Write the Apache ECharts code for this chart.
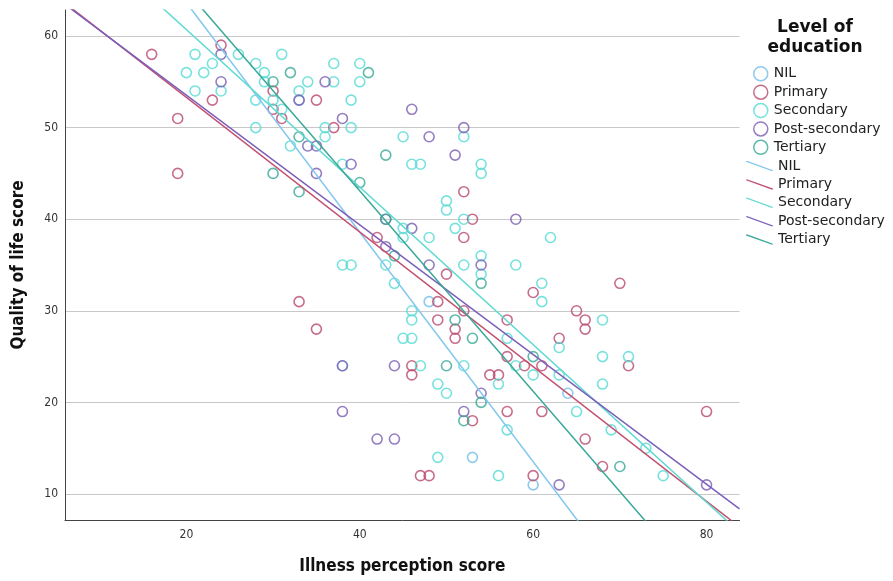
<!DOCTYPE html>
<html><head><meta charset="utf-8">
<script src="https://cdn.jsdelivr.net/npm/echarts@6/dist/echarts.min.js"></script>
<style>html,body{margin:0;padding:0;background:#fff}#c{width:893px;height:581px}</style>
</head><body><div id="c"></div>
<script>
const groups = ['NIL','Primary','Secondary','Post-secondary','Tertiary'];
const colors = ['#72bde9','#b9496f','#55dbd4','#7a5cb2','#35a996'];
const lineColors = ['#80c6ee','#c2506f','#5fd9d1','#7b5fbb','#3aa898'];

const nilX = [48,53,64,60,33,38];
const nilY = [31,14,21,11,53,24];
const primaryX = [16,24,23,30,30,31,19,19,35,37,52,70,60,65,66,66,57,63,53,52,42,50,33,49,35,49,52,51,51,57,46,46,55,56,53,57,47,48,71,59,61,61,80,66,68,60];
const primaryY = [58,59,53,54,52,51,51,45,53,50,43,33,32,30,29,28,29,27,40,38,38,34,31,31,28,29,30,28,27,25,24,23,23,23,18,19,12,12,24,24,24,19,19,16,13,12];
const secondaryX = [21,26,31,20,22,23,28,29,21,24,29,28,30,31,28,32,37,40,34,37,40,33,39,36,39,36,45,52,38,46,47,54,54,50,50,52,45,51,45,48,54,38,39,43,52,58,44,54,46,46,45,46,57,58,47,52,49,56,50,57,49,56,62,61,61,68,63,68,71,60,63,68,65,69,73,75];
const secondaryY = [58,58,58,56,56,57,57,56,54,54,55,53,53,52,50,48,57,57,55,55,55,54,53,50,50,49,49,49,46,46,46,46,45,42,41,40,39,39,38,38,36,35,35,35,35,35,33,34,30,29,27,27,27,24,24,24,22,22,21,17,14,12,38,33,31,29,26,25,25,23,23,22,19,17,15,12];
const postX = [24,24,33,36,46,38,52,48,34,35,51,39,35,58,43,46,43,48,54,38,44,54,38,52,42,44,63,80];
const postY = [58,55,53,55,52,51,50,49,48,48,47,46,45,40,40,39,37,35,35,24,24,21,19,19,16,16,11,11];
const tertiaryX = [32,30,33,30,33,41,43,40,44,54,51,53,50,54,52,60,70,43];
const tertiaryY = [56,55,49,45,43,56,47,44,36,33,29,27,24,20,18,25,13,40];

// fit lines: y = intercept + slope * x
const fitIntercept = [88.7, 68.0, 77.9, 67.7, 86.85];
const fitSlope = [-1.253, -0.735, -0.86, -0.708, -1.094];

const xTicks = [20,40,60,80];
const yTicks = [10,20,30,40,50,60];
const xMin = 6, xMax = 83.8, yMin = 7.16, yMax = 62.84;

const xs = [nilX, primaryX, secondaryX, postX, tertiaryX];
const ys = [nilY, primaryY, secondaryY, postY, tertiaryY];

const FONT = '"DejaVu Sans", sans-serif';
const CFONT = '"DejaVu Sans Condensed", "DejaVu Sans", sans-serif';

const series = [];
groups.forEach((g, i) => {
  series.push({
    name: g, type: 'scatter', symbol: 'circle', symbolSize: 10,
    itemStyle: {color: 'rgba(0,0,0,0)', borderColor: colors[i], borderWidth: 1.6},
    data: xs[i].map((x, k) => [x, ys[i][k]]), z: 3
  });
});
groups.forEach((g, i) => {
  series.push({
    name: g + '_fit', type: 'line', symbol: 'none', clip: true,
    color: lineColors[i],
    lineStyle: {color: lineColors[i], width: 1.5},
    data: [[xMin, fitIntercept[i] + fitSlope[i]*xMin], [xMax, fitIntercept[i] + fitSlope[i]*xMax]],
    z: 4
  });
});

const chart = echarts.init(document.getElementById('c'));
chart.setOption({
  animation: false,
  backgroundColor: '#fff',
  grid: {left: 65, right: 153.5, top: 10, bottom: 61, containLabel: false, outerBoundsMode: 'none'},
  xAxis: {
    type: 'value', min: xMin, max: xMax,
    name: 'Illness perception score', nameLocation: 'middle', nameGap: 38,
    nameTextStyle: {fontFamily: CFONT, fontWeight: 'bold', fontSize: 17, color: '#111'},
    axisLine: {show: true, lineStyle: {color: '#444', width: 1}},
    axisTick: {show: false, customValues: xTicks},
    axisLabel: {customValues: xTicks, fontFamily: CFONT, fontSize: 12, color: '#333', margin: 9},
    splitLine: {show: false}
  },
  yAxis: {
    type: 'value', min: yMin, max: yMax,
    name: 'Quality of life score', nameLocation: 'middle', nameGap: 38, nameRotate: 90,
    nameTextStyle: {fontFamily: CFONT, fontWeight: 'bold', fontSize: 17, color: '#111'},
    axisLine: {show: true, lineStyle: {color: '#444', width: 1}},
    axisTick: {show: false, customValues: yTicks},
    axisLabel: {customValues: yTicks, fontFamily: CFONT, fontSize: 12, color: '#333', margin: 7},
    splitLine: {show: true, lineStyle: {color: '#c8c8c8', width: 1}}
  },
  legend: [
    {
      orient: 'vertical', left: 748, top: 61, itemWidth: 14, itemHeight: 14, itemGap: 2.9,
      textStyle: {fontFamily: FONT, fontSize: 14, color: '#222', lineHeight: 14, padding: [0,0,0,1]},
      data: groups.map((g, i) => ({name: g, icon: 'circle',
        itemStyle: {color: 'rgba(0,0,0,0)', borderColor: colors[i], borderWidth: 1.5}}))
    },
    {
      orient: 'vertical', left: 741, top: 154, itemWidth: 27, itemHeight: 10, itemGap: 4.4,
      textStyle: {fontFamily: FONT, fontSize: 14, color: '#222', lineHeight: 14},
      formatter: n => n.replace('_fit', ''),
      data: groups.map((g, i) => ({name: g + '_fit', icon: 'path://M0,0 L1.6,0 L27,9.2 L27,10 L25.4,10 L0,0.8 Z',
        itemStyle: {color: lineColors[i]}}))
    }
  ],
  graphic: [{
    type: 'text', x: 815, y: 18,
    style: {text: 'Level of\neducation', align: 'center', verticalAlign: 'top',
      font: 'bold 17px "DejaVu Sans", sans-serif', fill: '#111', lineHeight: 20}
  }],
  series: series
});
</script>
</body></html>
